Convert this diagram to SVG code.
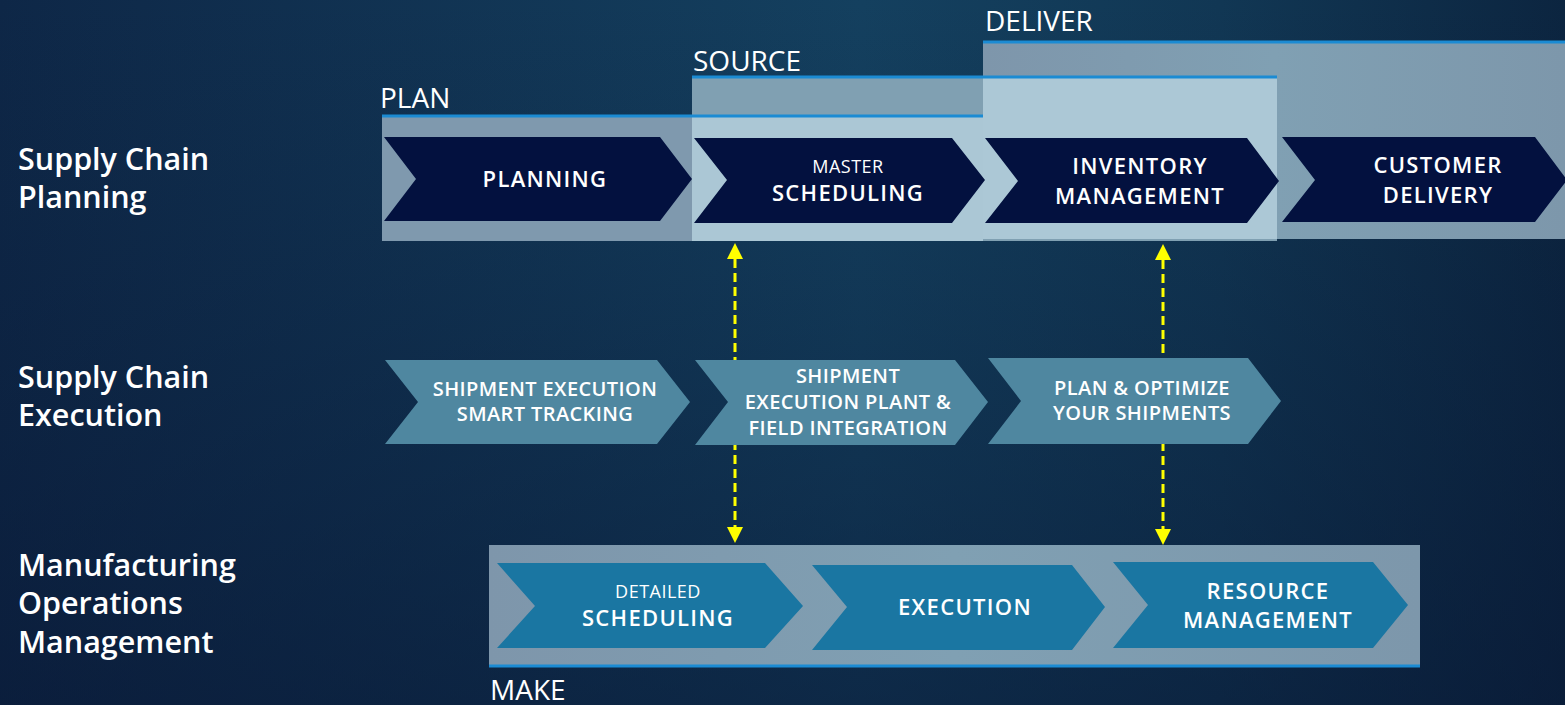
<svg xmlns="http://www.w3.org/2000/svg" width="1565" height="705" viewBox="0 0 1565 705">
<defs>
<linearGradient id="bg" x1="0" y1="0" x2="1" y2="0">
<stop offset="0" stop-color="#0e2747"/>
<stop offset="0.55" stop-color="#14405f"/>
<stop offset="0.78" stop-color="#113754"/>
<stop offset="1" stop-color="#0c2540"/>
</linearGradient>
<linearGradient id="shade" x1="0" y1="0" x2="0" y2="1">
<stop offset="0" stop-color="#0a1c38" stop-opacity="0"/>
<stop offset="1" stop-color="#081633" stop-opacity="0.55"/>
</linearGradient>
<linearGradient id="band" x1="0" y1="0" x2="1" y2="0">
<stop offset="0" stop-color="#7e96ab"/>
<stop offset="0.5" stop-color="#80a0b3"/>
<stop offset="1" stop-color="#7d97ab"/>
</linearGradient>
<marker id="ah" viewBox="0 0 10 10" refX="0" refY="5" markerWidth="16" markerHeight="16" markerUnits="userSpaceOnUse" orient="auto-start-reverse">
<path d="M0,0 L10,5 L0,10 z" fill="#ffff00"/>
</marker>
<style>
.lbl{font-family:"Open Sans","Noto Sans",sans-serif;font-weight:600;font-size:30.5px;fill:#ffffff}
.phase{font-family:"Open Sans","Noto Sans",sans-serif;font-weight:400;font-size:28px;fill:#ffffff}
.t{font-family:"Open Sans","Noto Sans",sans-serif;font-weight:600;font-size:22px;fill:#ffffff;text-anchor:middle;letter-spacing:1.3px}
.t2{font-family:"Open Sans","Noto Sans",sans-serif;font-weight:600;font-size:20px;fill:#ffffff;text-anchor:middle;letter-spacing:0.4px}
.thin{font-family:"Open Sans","Noto Sans",sans-serif;font-weight:400;font-size:18px;fill:#ffffff;text-anchor:middle;letter-spacing:0.5px}
.c1{fill:#03113f}
.c2{fill:#4f87a0}
.c3{fill:#1a76a2}
.bl{stroke:#1b8bd3;stroke-width:3}
.conn{stroke:#ffff00;stroke-width:3;stroke-dasharray:9 5;fill:none}
</style>
</defs>
<rect x="0" y="0" width="1565" height="705" fill="url(#bg)"/>
<rect x="0" y="0" width="1565" height="705" fill="url(#shade)"/>

<g id="row-labels">
<text class="lbl" x="18" y="170">Supply Chain</text>
<text class="lbl" x="18" y="208">Planning</text>
<text class="lbl" x="18" y="388">Supply Chain</text>
<text class="lbl" x="18" y="426">Execution</text>
<text class="lbl" x="18" y="576">Manufacturing</text>
<text class="lbl" x="18" y="614">Operations</text>
<text class="lbl" x="18" y="653">Management</text>
</g>

<g id="band-deliver">
<rect x="983" y="42" width="582" height="197" fill="url(#band)"/>
<line class="bl" x1="983" y1="42" x2="1565" y2="42"/>
<text class="phase" x="985" y="31">DELIVER</text>
</g>
<g id="band-source">
<rect x="692" y="77" width="585" height="164" fill="#80a0b2"/>
<rect x="692" y="116" width="291" height="125" fill="#abc7d5"/>
<rect x="983" y="77" width="294" height="162" fill="#acc8d6"/>
<line class="bl" x1="692" y1="77" x2="1277" y2="77"/>
<text class="phase" x="693" y="71">SOURCE</text>
</g>
<g id="band-plan">
<rect x="382" y="116" width="310" height="125" fill="#7f99ae"/>
<line class="bl" x1="382" y1="116" x2="983" y2="116"/>
<text class="phase" x="380" y="108">PLAN</text>
</g>
<g id="band-make">
<rect x="489" y="545" width="931" height="120" fill="url(#band)"/>
<line class="bl" x1="489" y1="666" x2="1420" y2="666"/>
<text class="phase" x="490" y="700">MAKE</text>
</g>

<g id="planning">
<polygon class="c1" points="384,137 660,137 692,179 660,221 384,221 416,179"/>
<text class="t" x="545" y="187">PLANNING</text>
</g>
<g id="master-scheduling">
<polygon class="c1" points="694,138 952,138 985,180 952,223 694,223 727,180"/>
<text class="thin" x="848" y="173">MASTER</text>
<text class="t" x="848" y="201">SCHEDULING</text>
</g>
<g id="inventory-management">
<polygon class="c1" points="985,138 1247,138 1279,181 1247,223 985,223 1018,181"/>
<text class="t" x="1140" y="174">INVENTORY</text>
<text class="t" x="1140" y="204">MANAGEMENT</text>
</g>
<g id="customer-delivery">
<polygon class="c1" points="1282,137 1535,137 1567,180 1535,222 1282,222 1315,180"/>
<text class="t" x="1438" y="173">CUSTOMER</text>
<text class="t" x="1438" y="203">DELIVERY</text>
</g>

<g id="connectors">
<line class="conn" x1="735" y1="259" x2="735" y2="527" marker-start="url(#ah)" marker-end="url(#ah)"/>
<line class="conn" x1="1163" y1="260" x2="1163" y2="529" marker-start="url(#ah)" marker-end="url(#ah)"/>
</g>

<g id="shipment-smart-tracking">
<polygon class="c2" points="385,360 657,360 690,402 657,444 385,444 418,402"/>
<text class="t2" x="545" y="396">SHIPMENT EXECUTION</text>
<text class="t2" x="545" y="421">SMART TRACKING</text>
</g>
<g id="shipment-plant-field">
<polygon class="c2" points="695,360 955,360 988,402 955,445 695,445 728,402"/>
<text class="t2" x="848" y="383">SHIPMENT</text>
<text class="t2" x="848" y="409">EXECUTION PLANT &amp;</text>
<text class="t2" x="848" y="435">FIELD INTEGRATION</text>
</g>
<g id="plan-optimize">
<polygon class="c2" points="988,358 1248,358 1281,401 1248,444 988,444 1021,401"/>
<text class="t2" x="1142" y="395">PLAN &amp; OPTIMIZE</text>
<text class="t2" x="1142" y="420">YOUR SHIPMENTS</text>
</g>

<g id="detailed-scheduling">
<polygon class="c3" points="497,563 765,563 803,606 765,648 497,648 535,606"/>
<text class="thin" x="658" y="598">DETAILED</text>
<text class="t" x="658" y="626">SCHEDULING</text>
</g>
<g id="execution">
<polygon class="c3" points="812,565 1072,565 1105,607 1072,650 812,650 847,607"/>
<text class="t" x="965" y="615">EXECUTION</text>
</g>
<g id="resource-management">
<polygon class="c3" points="1113,562 1373,562 1408,605 1373,648 1113,648 1148,605"/>
<text class="t" x="1268" y="599">RESOURCE</text>
<text class="t" x="1268" y="628">MANAGEMENT</text>
</g>
</svg>
